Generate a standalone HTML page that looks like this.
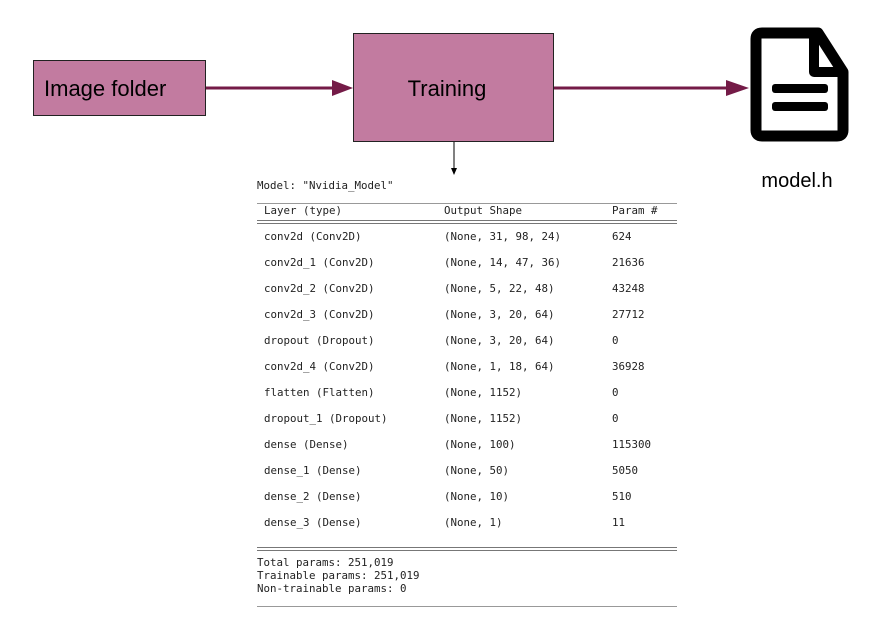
<!DOCTYPE html>
<html><head><meta charset="utf-8"><style>
html,body{margin:0;padding:0;background:#fff;width:891px;height:617px;overflow:hidden}
svg{display:block}
.m{font-family:"DejaVu Sans Mono","Liberation Mono",monospace;font-size:10.8px;fill:#222}
.s{font-family:"Liberation Sans",Arial,sans-serif;fill:#000}
</style></head><body>
<svg width="891" height="617" viewBox="0 0 891 617" xmlns="http://www.w3.org/2000/svg">
<rect x="33.5" y="60.5" width="172" height="55" fill="#c27ba0" stroke="#222" stroke-width="1"/>
<text x="44" y="96" class="s" font-size="22">Image folder</text>
<rect x="353.5" y="33.5" width="200" height="108" fill="#c27ba0" stroke="#222" stroke-width="1"/>
<text x="447" y="96" class="s" font-size="22" text-anchor="middle">Training</text>
<line x1="206" y1="88" x2="334" y2="88" stroke="#741b47" stroke-width="3"/>
<polygon points="332,80 353,88 332,96" fill="#741b47"/>
<line x1="554" y1="88" x2="728" y2="88" stroke="#741b47" stroke-width="3"/>
<polygon points="726,80 749,88 726,96" fill="#741b47"/>
<line x1="454" y1="142" x2="454" y2="174" stroke="#000" stroke-width="1"/>
<polygon points="451,168 457,168 454,175" fill="#000"/>
<path d="M762,33 H818 L843,72 V130 Q843,136 837,136 H762 Q756,136 756,130 V39 Q756,33 762,33 Z" fill="none" stroke="#000" stroke-width="11" stroke-linejoin="round"/>
<path d="M814,33 V72 H843" fill="none" stroke="#000" stroke-width="10" stroke-linejoin="round"/>
<rect x="772" y="84" width="56" height="9" rx="3" fill="#000"/>
<rect x="772" y="102" width="56" height="9" rx="3" fill="#000"/>
<text x="797" y="187" class="s" font-size="20" text-anchor="middle">model.h</text>
<text x="257" y="189" class="m">Model: "Nvidia_Model"</text>
<line x1="257" y1="203.5" x2="677" y2="203.5" stroke="#999"/>
<text x="264" y="214" class="m">Layer (type)</text><text x="444" y="214" class="m">Output Shape</text><text x="612" y="214" class="m">Param #</text>
<line x1="257" y1="220.5" x2="677" y2="220.5" stroke="#777"/>
<line x1="257" y1="223.5" x2="677" y2="223.5" stroke="#777"/>
<g class="m">
<text x="264" y="240">conv2d (Conv2D)</text><text x="444" y="240">(None, 31, 98, 24)</text><text x="612" y="240">624</text>
<text x="264" y="266">conv2d_1 (Conv2D)</text><text x="444" y="266">(None, 14, 47, 36)</text><text x="612" y="266">21636</text>
<text x="264" y="292">conv2d_2 (Conv2D)</text><text x="444" y="292">(None, 5, 22, 48)</text><text x="612" y="292">43248</text>
<text x="264" y="318">conv2d_3 (Conv2D)</text><text x="444" y="318">(None, 3, 20, 64)</text><text x="612" y="318">27712</text>
<text x="264" y="344">dropout (Dropout)</text><text x="444" y="344">(None, 3, 20, 64)</text><text x="612" y="344">0</text>
<text x="264" y="370">conv2d_4 (Conv2D)</text><text x="444" y="370">(None, 1, 18, 64)</text><text x="612" y="370">36928</text>
<text x="264" y="396">flatten (Flatten)</text><text x="444" y="396">(None, 1152)</text><text x="612" y="396">0</text>
<text x="264" y="422">dropout_1 (Dropout)</text><text x="444" y="422">(None, 1152)</text><text x="612" y="422">0</text>
<text x="264" y="448">dense (Dense)</text><text x="444" y="448">(None, 100)</text><text x="612" y="448">115300</text>
<text x="264" y="474">dense_1 (Dense)</text><text x="444" y="474">(None, 50)</text><text x="612" y="474">5050</text>
<text x="264" y="500">dense_2 (Dense)</text><text x="444" y="500">(None, 10)</text><text x="612" y="500">510</text>
<text x="264" y="526">dense_3 (Dense)</text><text x="444" y="526">(None, 1)</text><text x="612" y="526">11</text>
</g>
<line x1="257" y1="547.5" x2="677" y2="547.5" stroke="#777"/>
<line x1="257" y1="550.5" x2="677" y2="550.5" stroke="#777"/>
<text x="257" y="566" class="m">Total params: 251,019</text>
<text x="257" y="579" class="m">Trainable params: 251,019</text>
<text x="257" y="592" class="m">Non-trainable params: 0</text>
<line x1="257" y1="606.5" x2="677" y2="606.5" stroke="#999"/>
</svg>
</body></html>
